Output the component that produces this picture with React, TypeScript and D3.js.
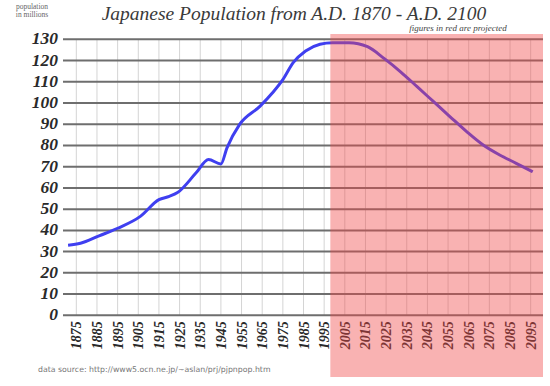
import React from "react";
import * as d3 from "d3";

const years = [1871, 1877, 1886, 1895, 1906, 1915, 1920, 1924, 1933, 1939, 1945, 1948, 1954, 1964, 1970, 1975, 1980, 1986, 1993, 1999, 2007, 2016, 2024, 2032, 2040, 2048, 2056, 2064, 2072, 2080, 2088, 2096];
const population = [33.0, 33.9, 37.4, 41.0, 46.6, 54.5, 56.0, 57.8, 67.1, 73.4, 71.3, 79.0, 89.8, 98.5, 104.8, 111.0, 119.0, 124.5, 127.7, 128.4, 128.4, 126.5, 121.0, 114.7, 107.7, 100.6, 93.5, 86.5, 80.2, 75.5, 71.6, 67.6];
const yTicks = [0, 10, 20, 30, 40, 50, 60, 70, 80, 90, 100, 110, 120, 130];
const xTicks = d3.range(1875, 2100, 10);
const projectionStart = 1998;

const W = 550;
const H = 386;
const left = 66;
const right = 541;
const top = 39.3;
const bottom = 315.3;

export default function App() {
  const x = d3.scaleLinear().domain([1870, 2100]).range([left, right]);
  const y = d3.scaleLinear().domain([0, 130]).range([bottom, top]);
  const line = d3
    .line<number>()
    .x((_, i) => x(years[i]))
    .y((d) => y(d))
    .curve(d3.curveMonotoneX);
  const serif = "'Liberation Serif', 'DejaVu Serif', serif";
  const redX = x(projectionStart);
  return (
    <svg
      width={W}
      height={H}
      style={{ position: "absolute", left: 0, top: 0, background: "#fff" }}
    >
      <rect x={0} y={0} width={W} height={H} fill="#fff" />
      <text
        x={294}
        y={20}
        textAnchor="middle"
        fontFamily={serif}
        fontStyle="italic"
        fontSize={19.5}
        fill="#3a3a3a"
      >
        Japanese Population from A.D. 1870 - A.D. 2100
      </text>
      <text x={32} y={9} textAnchor="middle" fontFamily={serif} fontSize={7.5} fill="#666">
        population
      </text>
      <text x={32} y={17} textAnchor="middle" fontFamily={serif} fontSize={7.5} fill="#666">
        in millions
      </text>
      <text
        x={458}
        y={31}
        textAnchor="middle"
        fontFamily={serif}
        fontStyle="italic"
        fontSize={9}
        fill="#444"
      >
        figures in red are projected
      </text>
      {xTicks.map((t) => (
        <line key={"v" + t} x1={x(t)} x2={x(t)} y1={top} y2={bottom} stroke="#d4d4d4" strokeWidth={1} />
      ))}
      {yTicks.map((t) => (
        <line key={"h" + t} x1={left - 3} x2={right + 2} y1={y(t)} y2={y(t)} stroke="#6e6e6e" strokeWidth={2} />
      ))}
      {yTicks.map((t) => (
        <text
          key={"yl" + t}
          x={58}
          y={y(t) + 5}
          textAnchor="end"
          fontFamily={serif}
          fontStyle="italic"
          fontWeight="bold"
          fontSize={17.5}
          fill="#2a2a2a"
        >
          {t}
        </text>
      ))}
      <path d={line(population) || ""} fill="none" stroke="#3f3ff0" strokeWidth={3} strokeLinejoin="round" />
      {xTicks.map((t) => (
        <text
          key={"xl" + t}
          transform={`translate(${x(t) + 5},${bottom + 6}) rotate(-90)`}
          textAnchor="end"
          fontFamily={serif}
          fontStyle="italic"
          fontWeight="bold"
          fontSize={14}
          fill="#2a2a2a"
        >
          {t}
        </text>
      ))}
      <rect x={redX} y={34} width={right + 2 - redX} height={377 - 34} fill="#f04848" opacity={0.42} />
      <text x={38} y={372} fontFamily="'DejaVu Sans', sans-serif" fontSize={7.8} fill="#777">
        data source: http://www5.ocn.ne.jp/~aslan/prj/pjpnpop.htm
      </text>
    </svg>
  );
}
